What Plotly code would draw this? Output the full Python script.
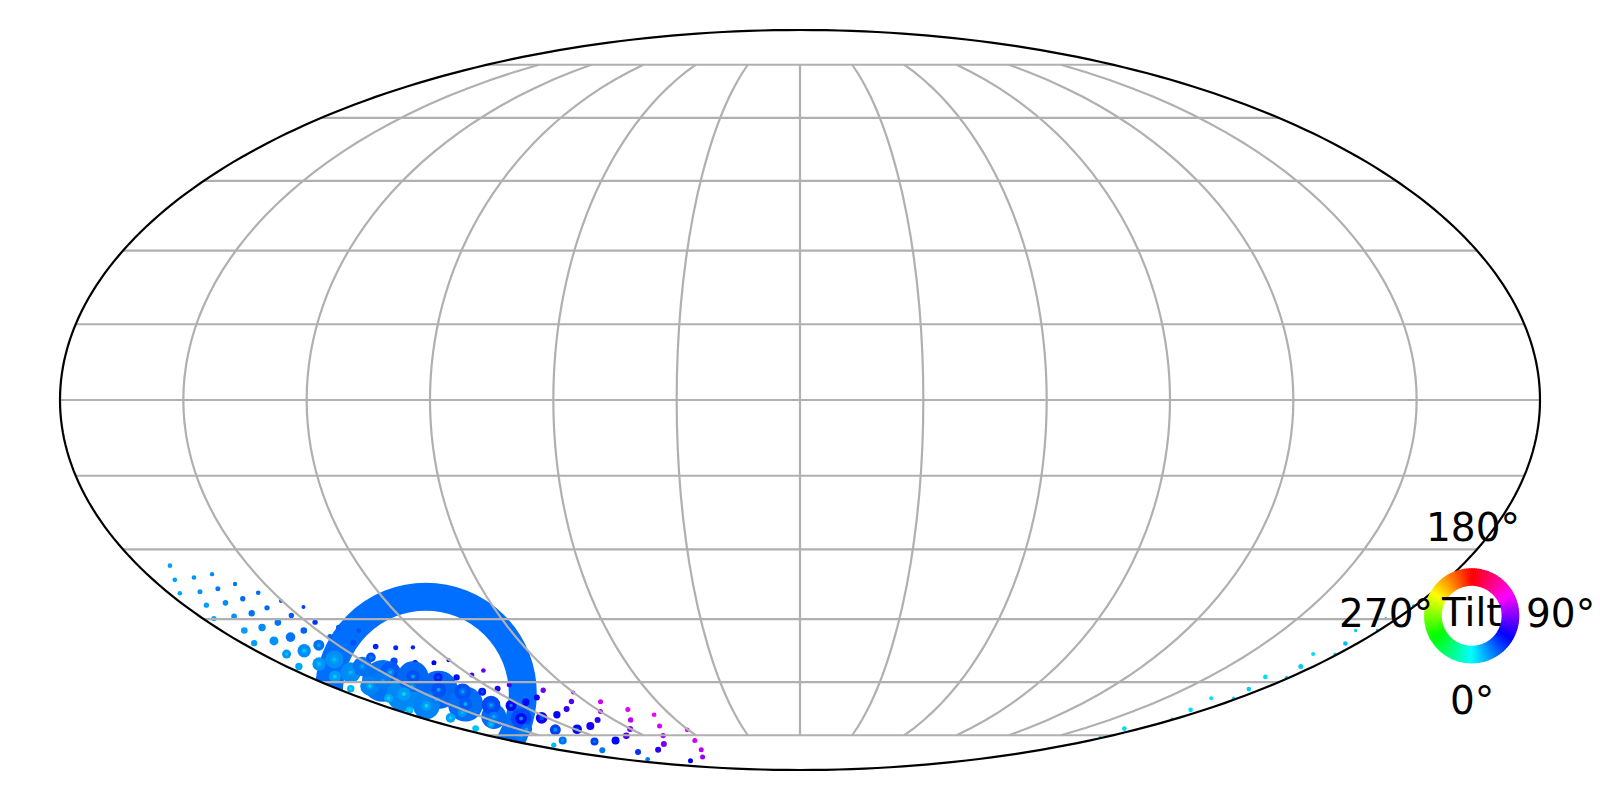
import math
import colorsys
import plotly.graph_objects as go

# points, lon/lat in degrees, tilt in degrees
lon = [-171.4,-174.0,-168.0,-162.1,-176.9,-170.7,-164.6,-158.4,-173.5,-167.1,-160.7,-154.4,
       -150.4,-145.7,-176.7,-169.7,-163.2,-156.7,-152.2,-147.5,-172.8,-165.9,-159.0,-154.3,
       -176.1,-168.6,-161.4,-156.3,-171.8,-164.0,-175.7,-167.0,-158.9,-170.3,-161.6,-174.7,
       -142.3,-137.2,-148.7,-143.9,-138.4,-132.4,-126.6,-153.5,-145.3,-139.4,-133.0,-126.5,
       -155.9,-164.9,-147.1,-158.7,-141.7,-148.8,-141.4,-161.5,-151.3,-169.0,-174.2,-142.8,
       -133.4,-166.1,-153.6,-171.6,-125.7,-117.6,-110.8,-100.7,-143.8,-132.9,-156.2,-124.6,
       -115.6,-107.6,-133.4,-145.7,-160.9,-122.8,-112.5,-131.4,-166.0,-133.0,-126.2,-120.3,
       -119.3,-112.9,-147.3,-95.9,-90.1,-103.3,-118.8,-107.8,-98.0,-83.9,-90.0,-130.1,
       -114.5,-149.5,-100.7,-90.2,-82.0,-76.4,-67.5,-72.2,-79.0,-89.8,-105.9,-127.6,
       -155.4,-60.6,-65.3,-73.7,-90.1,-119.5,176.3,171.6,177.9,173.8,168.9,178.1,
       174.9,170.7,178.8,175.6,171.7,179.0,176.2,172.8,179.3,176.6,179.5]
lat = [-33.4,-36.4,-35.9,-35.2,-39.3,-39.0,-38.3,-37.3,-41.9,-41.4,-40.5,-39.2,
       -41.0,-42.3,-44.9,-44.4,-43.7,-42.5,-44.2,-45.7,-47.6,-46.9,-45.8,-47.6,
       -50.5,-50.0,-49.1,-51.0,-53.1,-52.3,-56.1,-55.5,-54.4,-58.6,-57.6,-61.7,
       -46.9,-47.6,-49.0,-50.4,-51.3,-51.6,-51.5,-56.1,-53.9,-54.8,-55.2,-55.2,
       -59.7,-61.0,-57.5,-63.1,-58.6,-61.0,-62.0,-66.3,-64.7,-64.2,-67.5,-65.8,
       -62.5,-69.7,-68.2,-72.9,-62.5,-61.7,-60.7,-62.1,-69.3,-66.1,-71.6,-66.2,
       -65.3,-64.0,-69.9,-73.1,-75.1,-69.7,-68.8,-73.3,-78.3,-58.8,-58.8,-54.6,
       -58.2,-57.1,-76.7,-65.1,-62.7,-67.2,-73.1,-72.1,-70.3,-65.2,-67.9,-77.1,
       -76.7,-80.2,-75.2,-73.0,-70.3,-67.3,-68.8,-72.1,-75.1,-77.9,-80.0,-80.8,
       -83.8,-73.3,-76.7,-80.0,-82.8,-84.4,-75.5,-72.9,-69.9,-67.4,-64.2,-64.2,
       -61.8,-58.7,-58.8,-56.1,-53.1,-53.1,-50.6,-47.6,-47.5,-44.9,-42.0]
weight = [14,14,14,13,14,15,15,13,16,17,16,14,
          12,12,16,17,19,16,16,16,20,22,20,20,
          19,27,29,33,27,40,22,40,54,36,62,22,
          16,14,16,18,17,15,13,58,29,22,17,15,
          125,58,62,105,92,22,115,80,22,27,22,105,
          50,29,27,20,24,18,15,16,75,56,22,33,
          22,18,62,33,27,35,22,33,16,27,19,12,
          15,14,24,16,12,18,29,24,18,15,15,24,
          24,18,20,18,16,15,14,15,16,18,18,18,
          14,14,15,15,15,15,8,14,7,14,12,10,
          14,14,10,15,12,10,14,10,8,10,8]
tilt = [21,21,24,26,19,24,30,32,21,26,34,34,
        36,44,19,24,32,34,38,47,21,26,32,36,
        21,24,32,32,23,26,19,24,25,22,26,16,
        36,40,36,40,51,51,52,32,40,42,60,60,
        32,28,38,27,35,28,35,28,30,19,14,33,
        40,20,24,12,52,67,78,88,34,42,22,58,
        58,64,42,34,30,64,62,44,14,52,56,62,
        75,85,32,80,100,72,58,66,72,110,100,44,
        58,31,78,88,104,114,118,110,97,88,70,48,
        30,114,110,105,97,60,6,6,6,6,6,8,
        9,6,8,11,6,10,13,10,14,14,14]

# inner rings of the bigger bubbles, index into the lists above
mid_index = [29,31,32,33,34,43,48,49,50,51,52,54,55,59,60,68,69,74,77]
mid_weight = [20,18,28,14,26,20,50,22,24,40,40,45,30,40,24,28,24,34,14]
mid_tilt = [22,20,22,15,24,28,30,22,30,22,40,40,22,38,34,30,36,58,40]
core_index = [27,28,29,31,32,33,34,35,43,44,48,49,50,51,52,53,54,55,56,57,58,59,60,61,62,64,68,69,70,71,74,75,76,77,79,81,86,90,95]
core_weight = [12,10,10,10,12,8,12,8,10,12,12,10,10,12,12,8,12,12,8,10,8,12,10,10,8,8,10,10,8,10,12,10,8,8,12,10,8,10,8]
core_tilt = [20,12,10,12,14,8,14,6,20,30,20,8,15,8,20,16,20,8,16,8,8,18,20,8,14,38,18,20,10,30,24,20,15,45,24,40,20,40,30]

# the big ring
ring_lon = [-149.6]
ring_lat = [-63.0]
ring_tilt = 34

lat_ticks = [-75,-60,-45,-30,-15,0,15,30,45,60,75]
lon_ticks = [-150,-120,-90,-60,-30,0,30,60,90,120,150]
lon_cap = 75
wheel_labels = ['180°','270°','90°','0°','Tilt']


def tilt_color(t, v=0.97):
    r, g, b = colorsys.hsv_to_rgb(((t + 180) % 360) / 360, 1, v)
    return 'rgb(%d,%d,%d)' % (r * 255, g * 255, b * 255)


def dots(lons, lats, weights, tilts):
    return go.Scattergeo(lon=lons, lat=lats, mode='markers',
                         marker=dict(size=[w / 3 for w in weights], color=[tilt_color(t) for t in tilts],
                                     opacity=1, line=dict(width=0)))


fig = go.Figure()
ring_color = tilt_color(ring_tilt, 1)
fig.add_trace(go.Scattergeo(lon=ring_lon, lat=ring_lat, mode='markers',
                            marker=dict(symbol='circle-open', size=194, color=ring_color, opacity=1,
                                        line=dict(width=28, color=ring_color))))
fig.add_trace(dots(lon, lat, weight, tilt))
fig.add_trace(dots([lon[i] for i in mid_index], [lat[i] for i in mid_index], mid_weight, mid_tilt))
fig.add_trace(dots([lon[i] for i in core_index], [lat[i] for i in core_index], core_weight, core_tilt))

# grid goes over the points, as in the reference
for la in lat_ticks:
    ls = list(range(-180, 181, 3))
    fig.add_trace(go.Scattergeo(lon=ls, lat=[la] * len(ls), mode='lines', line=dict(color='#b0b0b0', width=2.2)))
for lo in lon_ticks:
    fig.add_trace(go.Scattergeo(lon=[lo, lo], lat=[-lon_cap, lon_cap], mode='lines', line=dict(color='#b0b0b0', width=2.2)))

# white outside the map clips the markers, its edge is the black frame
ell = [(0.5 + 740 / 1600 * math.cos(math.radians(a)), 0.5 + 370 / 800 * math.sin(math.radians(a))) for a in range(360)]
mask = 'M -0.1 -0.1 L 1.1 -0.1 L 1.1 1.1 L -0.1 1.1 Z M ' + ' L '.join('%.5f %.5f' % e for e in ell) + ' Z'
shapes = [dict(type='path', xref='paper', yref='paper', path=mask, fillcolor='white',
               line=dict(color='black', width=2.2), layer='above')]

# colour wheel
cx, cy = 1471.7, 800 - 615.8
for a in range(0, 360, 3):
    p = []
    for r, b in ((47.6, a - 0.5), (47.6, a + 3.5), (30, a + 3.5), (30, a - 0.5)):
        rad = math.radians(b)
        p.append(((cx + r * math.sin(rad)) / 1600, (cy - r * math.cos(rad)) / 800))
    shapes.append(dict(type='path', xref='paper', yref='paper', path='M ' + ' L '.join('%.5f %.5f' % q for q in p) + ' Z',
                       fillcolor=tilt_color(a + 1.5, 1), line=dict(width=0), layer='above'))

label_pos = [(1473, 527), (1386, 613), (1560, 613), (1472, 700), (1471, 612)]
notes = []
for t, (x, y) in zip(wheel_labels, label_pos):
    notes.append(dict(xref='paper', yref='paper', x=x / 1600, y=1 - y / 800, xanchor='center', yanchor='middle',
                      showarrow=False, text=t, font=dict(family='DejaVu Sans', size=39, color='black')))

fig.update_layout(width=1600, height=800, margin=dict(l=0, r=0, t=0, b=0), showlegend=False,
                  paper_bgcolor='white', shapes=shapes, annotations=notes,
                  geo=dict(projection_type='mollweide', domain=dict(x=[60 / 1600, 1540 / 1600], y=[30 / 800, 770 / 800]),
                           showframe=False, showland=False, showcoastlines=False, showcountries=False,
                           showocean=False, showlakes=False, bgcolor='rgba(0,0,0,0)'))
fig.update_traces(hoverinfo='skip')
fig.write_html("out.html", config=dict(displayModeBar=False), post_script="document.body.style.margin='0';")
